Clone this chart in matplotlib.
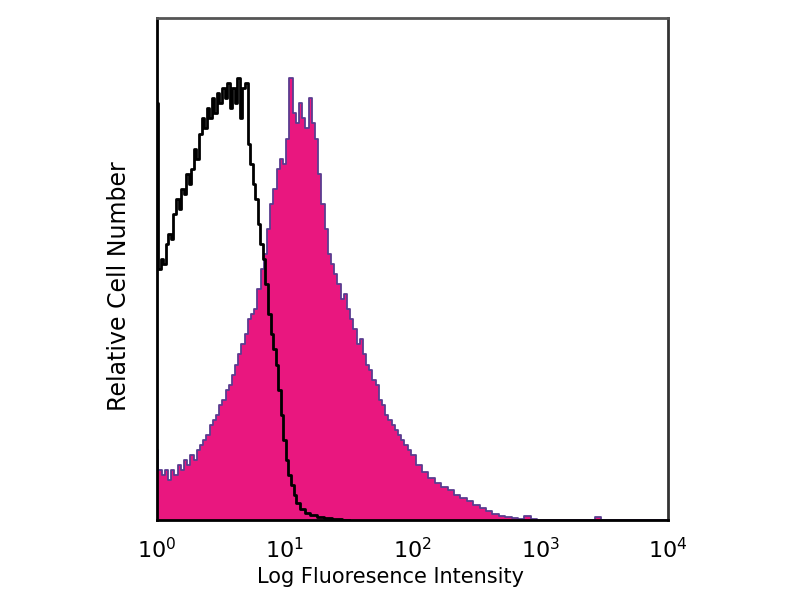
import numpy as np
import matplotlib
matplotlib.use('Agg')
import matplotlib.pyplot as plt

# control (black outline): log10 intensity vs relative count
ctrl_log = [0.00, 0.02, 0.04, 0.06, 0.08, 0.10, 0.12, 0.14, 0.16, 0.18,
            0.20, 0.22, 0.24, 0.26, 0.28, 0.30, 0.32, 0.34, 0.36, 0.38,
            0.40, 0.42, 0.44, 0.46, 0.48, 0.50, 0.52, 0.54, 0.56, 0.58,
            0.60, 0.62, 0.64, 0.66, 0.68, 0.70, 0.72, 0.74, 0.76, 0.78,
            0.80, 0.82, 0.84, 0.86, 0.88, 0.90, 0.92, 0.94, 0.96, 0.98,
            1.00, 1.02, 1.04, 1.06, 1.08, 1.10, 1.14, 1.18, 1.22, 1.28,
            1.34, 1.40, 1.50]
ctrl_cnt = [0.83, 0.50, 0.52, 0.51, 0.55, 0.57, 0.56, 0.61, 0.64, 0.62,
            0.66, 0.65, 0.69, 0.67, 0.70, 0.74, 0.72, 0.77, 0.80, 0.78,
            0.82, 0.80, 0.84, 0.81, 0.85, 0.83, 0.86, 0.84, 0.87, 0.82,
            0.86, 0.83, 0.88, 0.80, 0.86, 0.87, 0.75, 0.71, 0.67, 0.64,
            0.59, 0.55, 0.52, 0.47, 0.41, 0.37, 0.34, 0.31, 0.26, 0.21,
            0.16, 0.12, 0.09, 0.07, 0.05, 0.035, 0.022, 0.015, 0.010, 0.006,
            0.004, 0.002, 0.0]

# stained sample (magenta fill)
stain_log = [0.000, 0.025, 0.050, 0.075, 0.100, 0.125, 0.150, 0.175, 0.200, 0.225,
             0.250, 0.275, 0.300, 0.325, 0.350, 0.375, 0.400, 0.425, 0.450, 0.475,
             0.500, 0.525, 0.550, 0.575, 0.600, 0.625, 0.650, 0.675, 0.700, 0.725,
             0.750, 0.775, 0.800, 0.825, 0.850, 0.875, 0.900, 0.925, 0.950, 0.975,
             1.000, 1.025, 1.050, 1.075, 1.100, 1.125, 1.150, 1.175, 1.200, 1.225,
             1.250, 1.275, 1.300, 1.325, 1.350, 1.375, 1.400, 1.425, 1.450, 1.475,
             1.500, 1.525, 1.550, 1.575, 1.600, 1.625, 1.650, 1.675, 1.700, 1.725,
             1.750, 1.775, 1.800, 1.825, 1.850, 1.875, 1.900, 1.925, 1.950, 1.975,
             2.000, 2.050, 2.100, 2.150, 2.200, 2.250, 2.300, 2.350, 2.400, 2.450,
             2.500, 2.550, 2.600, 2.650, 2.700, 2.750, 2.800, 2.850, 2.900, 2.950,
             3.000, 3.200, 3.400, 3.450, 3.500, 3.700, 4.000]
stain_cnt = [0.14, 0.10, 0.09, 0.10, 0.08, 0.10, 0.09, 0.11, 0.10, 0.12,
             0.11, 0.13, 0.12, 0.14, 0.15, 0.16, 0.17, 0.19, 0.20, 0.21,
             0.23, 0.24, 0.26, 0.27, 0.29, 0.31, 0.33, 0.35, 0.37, 0.40,
             0.41, 0.42, 0.46, 0.50, 0.53, 0.58, 0.63, 0.66, 0.70, 0.72,
             0.71, 0.76, 0.88, 0.81, 0.79, 0.83, 0.80, 0.78, 0.84, 0.79,
             0.76, 0.69, 0.63, 0.58, 0.53, 0.51, 0.49, 0.47, 0.44, 0.45,
             0.42, 0.40, 0.38, 0.35, 0.36, 0.33, 0.31, 0.30, 0.28, 0.27,
             0.24, 0.23, 0.21, 0.20, 0.19, 0.18, 0.17, 0.16, 0.15, 0.14,
             0.13, 0.11, 0.095, 0.085, 0.075, 0.066, 0.06, 0.05, 0.045, 0.038,
             0.03, 0.024, 0.018, 0.013, 0.009, 0.006, 0.004, 0.003, 0.008, 0.002,
             0.001, 0.001, 0.0, 0.007, 0.0, 0.0, 0.0]

tick_vals = [1, 10, 100, 1000, 10000]
tick_text = [r'$10^{0}$', r'$10^{1}$', r'$10^{2}$', r'$10^{3}$', r'$10^{4}$']

fill_col = '#e9177f'
edge_col = '#5a3d90'

fig = plt.figure(figsize=(8, 6), dpi=100)
ax = fig.add_axes([0.196, 0.133, 0.639, 0.837])

sx = 10 ** np.array(stain_log)
cx = 10 ** np.array(ctrl_log)

ax.fill_between(sx, 0, stain_cnt, step='mid', color=fill_col, lw=0)
ax.step(sx, stain_cnt, where='mid', color=edge_col, lw=1.3)
ax.step(cx, ctrl_cnt, where='mid', color='black', lw=2.0)

ax.set_xscale('log')
ax.set_xlim(1, 10000)
ax.set_ylim(0, 1.0)
ax.set_xticks(tick_vals)
ax.set_xticklabels(tick_text, fontsize=16)
ax.minorticks_off()
ax.set_yticks([])
ax.tick_params(axis='x', length=0, pad=12)

for s in ax.spines.values():
    s.set_linewidth(2)
ax.spines['top'].set_color('#555555')
ax.spines['right'].set_color('#333333')

ax.set_xlabel('Log Fluoresence Intensity', fontsize=15)
ax.set_ylabel('Relative Cell Number', fontsize=17)
ax.xaxis.set_label_coords(0.458, -0.093)
ax.yaxis.set_label_coords(-0.05, 0.466)

fig.savefig('out.png', dpi=100)
